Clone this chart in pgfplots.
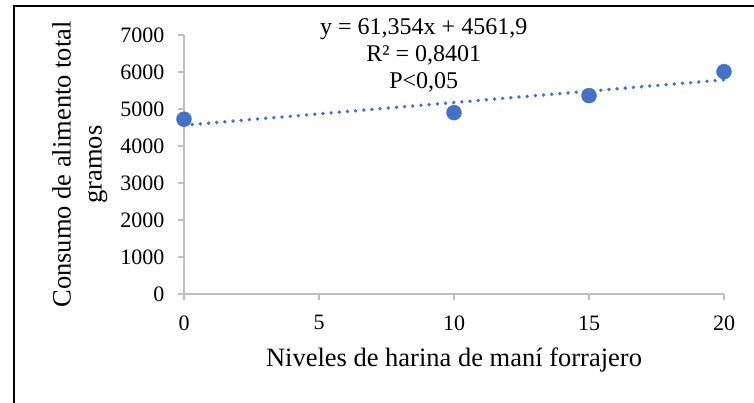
\documentclass[border=0pt]{standalone}
\usepackage{fontspec}
\setmainfont{Liberation Serif}
\usepackage{pgfplots}
\pgfplotsset{compat=1.18}
\definecolor{xlblue}{HTML}{4472C4}
\definecolor{axgray}{HTML}{BFBFBF}
\begin{document}
\begin{tikzpicture}
\useasboundingbox (0,0) rectangle (754pt,403pt);
\fill[white] (0,0) rectangle (754pt,403pt);
\draw[line width=2.8pt, line join=miter] (14pt,0) -- (14pt,397pt) -- (754pt,397pt);
\begin{axis}[
  at={(184pt,109pt)}, anchor=south west,
  scale only axis, width=540pt, height=259pt,
  xmin=0, xmax=20, ymin=0, ymax=7000,
  axis lines=left,
  axis line style={draw=axgray, line width=1.3pt, -},
  xtick={0,5,10,15,20},
  ytick={0,1000,...,7000},
  tick align=outside,
  major tick length=6pt,
  tick style={draw=axgray, line width=1.3pt},
  /pgf/number format/1000 sep={},
  /pgf/number format/assume math mode=true,
  tick label style={font=\fontsize{22}{26}\selectfont},
  yticklabel style={xshift=-10pt},
  xticklabel style={yshift=-12pt},
  xlabel={Niveles de harina de maní forrajero},
  ylabel={Consumo de alimento total\\gramos},
  xlabel style={font=\fontsize{26.5}{31}\selectfont, at={(axis description cs:0.5,-0.255)}, anchor=center},
  ylabel style={font=\fontsize{26.5}{31}\selectfont, align=center, at={(axis description cs:-0.193,0.5)}, anchor=center},
  clip=false,
]
\addplot[xlblue, line width=3.8pt, line cap=round, dash pattern=on 0pt off 8.2pt] coordinates {(0,4561.9) (20,5788.98)};
\addplot[only marks, mark=*, mark size=7.5pt, color=xlblue, mark options={fill=xlblue, draw=xlblue}] coordinates {
(0,4724) (10,4902) (15,5361) (20,6010)};
\node[align=center, font=\fontsize{24}{27}\selectfont, anchor=center] at (rel axis cs:0.444,0.922) {y = 61,354x + 4561,9\\R² = 0,8401\\P<0,05};
\end{axis}
\end{tikzpicture}
\end{document}
